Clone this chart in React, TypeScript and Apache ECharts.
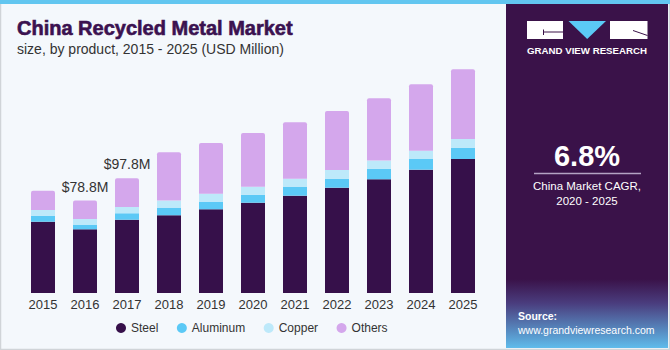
import React, { useEffect, useRef } from "react";
import * as echarts from "echarts";

const years = ["2015", "2016", "2017", "2018", "2019", "2020", "2021", "2022", "2023", "2024", "2025"];
const steel = [60.8, 54.3, 62.5, 66.3, 71.4, 77.0, 83.0, 89.8, 97.0, 105.2, 114.3];
const aluminum = [4.9, 4.0, 5.5, 6.5, 6.5, 6.8, 7.7, 7.7, 8.8, 9.1, 9.4];
const copper = [5.1, 4.9, 5.4, 6.0, 6.8, 6.8, 6.8, 7.4, 7.1, 7.1, 7.7];
const others = [16.5, 15.6, 24.4, 41.3, 43.2, 45.8, 48.1, 50.3, 53.2, 56.6, 59.5];
const totalLabels = ["", "$78.8M", "$97.8M", "", "", "", "", "", "", "", ""];

const COLORS = { steel: "#36104A", aluminum: "#5BC9F6", copper: "#BDE9FA", others: "#D4A7EC" };
const FONT = "'Liberation Sans', Arial, sans-serif";

export default function App() {
  const ref = useRef<HTMLDivElement>(null);
  useEffect(() => {
    document.body.style.margin = "0";
    const chart = echarts.init(ref.current!, null, { renderer: "svg" });
    const barBase = { type: "bar", stack: "total", barWidth: 24 };
    chart.setOption({
      animation: false,
      backgroundColor: "#F4F8FC",
      textStyle: { fontFamily: FONT },
      grid: { left: 22, right: 186, top: 58.5, bottom: 57 },
      xAxis: {
        type: "category",
        data: years,
        axisLine: { show: false },
        axisTick: { show: false },
        axisLabel: { color: "#333", fontSize: 13, margin: 5, fontFamily: FONT },
      },
      yAxis: { type: "value", min: 0, max: 200, show: false, splitLine: { show: false } },
      legend: {
        left: 111,
        top: 317,
        icon: "circle",
        itemWidth: 10,
        itemHeight: 10,
        itemGap: 18.5,
        textStyle: { color: "#333", fontSize: 12, fontFamily: FONT },
        data: ["Steel", "Aluminum", "Copper", "Others"],
      },
      series: [
        { ...barBase, name: "Steel", data: steel, itemStyle: { color: COLORS.steel } },
        { ...barBase, name: "Aluminum", data: aluminum, itemStyle: { color: COLORS.aluminum } },
        { ...barBase, name: "Copper", data: copper, itemStyle: { color: COLORS.copper } },
        {
          ...barBase,
          name: "Others",
          data: others,
          itemStyle: { color: COLORS.others, borderRadius: [2, 2, 0, 0] },
          label: {
            show: true,
            position: "top",
            distance: 7,
            color: "#333",
            fontSize: 14,
            fontFamily: FONT,
            formatter: (p: any) => totalLabels[p.dataIndex],
          },
        },
      ],
      graphic: [
        { type: "rect", shape: { x: 0, y: 0, width: 670, height: 4 }, style: { fill: "#62C6F0" }, z: 10 },
        {
          type: "rect",
          shape: { x: 0.5, y: 0.5, width: 669, height: 349 },
          style: { fill: "none", stroke: "#D0D4D8", lineWidth: 1.5 },
          z: 9,
        },
        {
          type: "rect",
          shape: { x: 506, y: 4, width: 162, height: 344 },
          style: {
            fill: new echarts.graphic.LinearGradient(0, 0, 0, 1, [
              { offset: 0, color: "#3A1249" },
              { offset: 0.8, color: "#3A1249" },
              { offset: 0.87, color: "#4A3D7E" },
              { offset: 1, color: "#5FBCEB" },
            ]),
          },
          z: 10,
        },
        // logo
        { type: "rect", shape: { x: 527, y: 21, width: 36, height: 18 }, style: { fill: "#fff" }, z: 11 },
        { type: "line", shape: { x1: 543, y1: 32, x2: 563, y2: 32 }, style: { stroke: "#3A1249", lineWidth: 1 }, z: 12 },
        { type: "line", shape: { x1: 543.5, y1: 29.5, x2: 543.5, y2: 35 }, style: { stroke: "#3A1249", lineWidth: 1 }, z: 12 },
        { type: "polygon", shape: { points: [[568.5, 21], [606, 21], [587.2, 39]] }, style: { fill: "#5BC9F6" }, z: 11 },
        { type: "rect", shape: { x: 610, y: 21, width: 37.5, height: 18 }, style: { fill: "#fff" }, z: 11 },
        { type: "line", shape: { x1: 633, y1: 30.5, x2: 647.5, y2: 35.5 }, style: { stroke: "#3A1249", lineWidth: 1 }, z: 12 },
        {
          type: "text",
          x: 587,
          y: 50.5,
          style: { text: "GRAND VIEW RESEARCH", fill: "#fff", font: `bold 9.7px ${FONT}`, align: "center", verticalAlign: "middle" },
          z: 12,
        },
        // CAGR
        {
          type: "text",
          x: 587,
          y: 155.5,
          style: { text: "6.8%", fill: "#fff", font: `bold 29px ${FONT}`, align: "center", verticalAlign: "middle" },
          z: 12,
        },
        { type: "line", shape: { x1: 534, y1: 173.5, x2: 641, y2: 173.5 }, style: { stroke: "#B4A3C4", lineWidth: 1.5 }, z: 12 },
        {
          type: "text",
          x: 587,
          y: 185.5,
          style: { text: "China Market CAGR,", fill: "#fff", font: `11.5px ${FONT}`, align: "center", verticalAlign: "middle" },
          z: 12,
        },
        {
          type: "text",
          x: 587,
          y: 200.5,
          style: { text: "2020 - 2025", fill: "#fff", font: `11.5px ${FONT}`, align: "center", verticalAlign: "middle" },
          z: 12,
        },
        // source
        {
          type: "text",
          x: 518,
          y: 316,
          style: { text: "Source:", fill: "#fff", font: `bold 10.5px ${FONT}`, align: "left", verticalAlign: "middle" },
          z: 12,
        },
        {
          type: "text",
          x: 518,
          y: 329.5,
          style: { text: "www.grandviewresearch.com", fill: "#fff", font: `10.5px ${FONT}`, align: "left", verticalAlign: "middle" },
          z: 12,
        },
        // titles
        {
          type: "text",
          x: 17,
          y: 28,
          style: {
            text: "China Recycled Metal Market",
            fill: "#3B1250",
            font: `bold 20px ${FONT}`,
            stroke: "#3B1250",
            lineWidth: 0.6,
            align: "left",
            verticalAlign: "middle",
          },
          z: 12,
        },
        {
          type: "text",
          x: 17,
          y: 48.5,
          style: { text: "size, by product, 2015 - 2025 (USD Million)", fill: "#333", font: `14px ${FONT}`, align: "left", verticalAlign: "middle" },
          z: 12,
        },
      ],
    });
    return () => chart.dispose();
  }, []);
  return <div ref={ref} style={{ position: "fixed", left: 0, top: 0, width: 670, height: 350 }} />;
}
